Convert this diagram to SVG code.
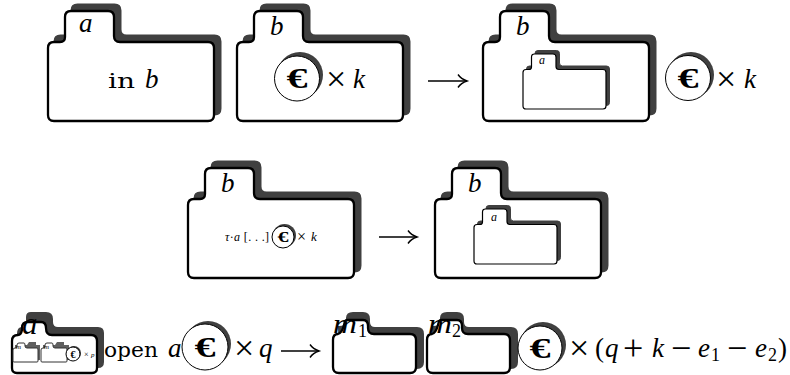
<svg xmlns="http://www.w3.org/2000/svg" xmlns:xlink="http://www.w3.org/1999/xlink" width="790" height="375" viewBox="0 0 790 375">
<style>
text{fill:#000;font-family:"Liberation Serif",serif;font-size:27px}
.i{font-style:italic}
.m{font-family:"DejaVu Serif",serif;font-size:20px}
.s{font-size:36px}
.e{font-weight:bold;text-anchor:middle;font-size:29px}
.e2{font-weight:bold;text-anchor:middle;font-size:15px}
.e3{font-weight:bold;text-anchor:middle;font-size:10px}
.sub{font-size:18px}
.sh{fill:#404040;stroke:#404040;stroke-width:2}
.fo{fill:#fff;stroke:#000;stroke-width:2.3}
.fi{fill:#fff;stroke:#000;stroke-width:2.4}
.cs{fill:#404040}
.co{fill:#fff;stroke:#000;stroke-width:1}
.ar{fill:none;stroke:#000;stroke-width:1.3;marker-end:url(#hook)}
</style>
<defs>
<path id="f" d="M0 37Q0 31 6 31L12 31Q17 31 17 26L17 6Q17 0 23 0L60 0Q66 0 66 6L66 25Q66 31 72 31L160 31Q166 31 166 37L166 104Q166 110 160 110L6 110Q0 110 0 104Z"/>
<marker id="hook" markerUnits="userSpaceOnUse" markerWidth="14" markerHeight="16" refX="12" refY="8" orient="auto" overflow="visible">
<path d="M3 1.500Q6 6 12 8Q6 10 3 14.500" fill="none" stroke="#000" stroke-width="1.4"/>
</marker>
</defs>

<g id="connectors">
<path class="ar" d="M428 81H467"/>
<path class="ar" d="M379 237H417"/>
<path class="ar" d="M281 351H319"/>
</g>

<g id="folder-a-top">
<use xlink:href="#f" class="sh" transform="translate(54.500,4.500)"/>
<use xlink:href="#f" class="fo" transform="translate(48,11)"/>
<text class="i" x="79" y="32">a</text>
<text class="m" x="108" y="88" textLength="27" lengthAdjust="spacingAndGlyphs">in</text>
<text class="i" x="145" y="88">b</text>
</g>

<g id="folder-b-top">
<use xlink:href="#f" class="sh" transform="translate(243.500,4.500)"/>
<use xlink:href="#f" class="fo" transform="translate(237,11)"/>
<text class="i" x="270" y="35">b</text>
<circle class="cs" cx="300" cy="75" r="23"/>
<circle class="co" cx="297" cy="78.500" r="22.500"/>
<text class="e" x="297" y="88" textLength="21" lengthAdjust="spacingAndGlyphs">€</text>
<text class="s" x="326" y="91">×</text>
<text class="i" x="353" y="88">k</text>
</g>

<g id="folder-b-result">
<use xlink:href="#f" class="sh" transform="translate(489.500,4.500)"/>
<use xlink:href="#f" class="fo" transform="translate(483,11)"/>
<text class="i" x="516" y="35">b</text>
</g>
<g id="folder-a-inner">
<use xlink:href="#f" class="sh" transform="translate(526.500,50.500) scale(.5)"/>
<use xlink:href="#f" class="fi" transform="translate(523,54) scale(.5)"/>
<text class="i" x="539" y="64" style="font-size:12px">a</text>
</g>
<g id="coins-top">
<circle class="cs" cx="691" cy="75" r="23"/>
<circle class="co" cx="688" cy="78" r="22.500"/>
<text class="e" x="688" y="87.500" textLength="21" lengthAdjust="spacingAndGlyphs">€</text>
<text class="s" x="716" y="91">×</text>
<text class="i" x="744" y="88">k</text>
</g>

<g id="folder-b-mid">
<use xlink:href="#f" class="sh" transform="translate(194.500,161.500)"/>
<use xlink:href="#f" class="fo" transform="translate(188,168)"/>
<text class="i" x="221" y="192">b</text>
<text x="225" y="241" style="font-size:12px" textLength="44"><tspan class="i">τ</tspan>·<tspan class="i">a</tspan> [. . .]</text>
<circle class="cs" cx="284.500" cy="235.500" r="11.500"/>
<circle class="co" cx="283" cy="237" r="11"/>
<text class="e2" x="283" y="242" textLength="11" lengthAdjust="spacingAndGlyphs">€</text>
<text x="297" y="242" style="font-size:16px">×</text>
<text class="i" x="311" y="241" style="font-size:13px">k</text>
</g>

<g id="folder-b-mid-result">
<use xlink:href="#f" class="sh" transform="translate(441.500,161.500)"/>
<use xlink:href="#f" class="fo" transform="translate(435,168)"/>
<text class="i" x="468" y="192">b</text>
</g>
<g id="folder-a-mid-inner">
<use xlink:href="#f" class="sh" transform="translate(477.500,205.500) scale(.5)"/>
<use xlink:href="#f" class="fi" transform="translate(474,209) scale(.5)"/>
<text class="i" x="491" y="221" style="font-size:12px">a</text>
</g>

<g id="folder-a-bottom">
<path class="sh" d="M18 334Q18 328 22 328L24 328Q27 328 27 324L27 317Q27 313 31 313L46 313Q52 313 52 319L52 322Q52 328 58 328L98 328Q103 328 103 333L103 362Q103 367 98 367L18 367Z"/>
<path class="fo" d="M12 341Q12 335 18 335L18 335Q21 335 22 330L22 328Q22 322 28 322L41 322Q46 322 46 328Q46 335 52 335L91 335Q97 335 97 341L97 368Q97 373 92 373L17 373Q12 373 12 368Z"/>
<text class="i" x="22" y="334" style="font-size:31px">a</text>
<g id="mini-m-1">
<path d="M15 345H27L29 342H36V345H40V360H15Z" fill="#606060"/>
<path d="M13 350Q13 348 15 348H16Q17 348 17 346V345Q17 343 19 343H24Q25 343 25 345V346Q25 348 27 348H37Q38 348 38 350V361Q38 362 37 362H14Q13 362 13 361Z" fill="#fff" stroke="#333" stroke-width="1"/>
<text class="i" x="16" y="349" style="font-size:7px">m</text>
</g>
<g id="mini-m-2">
<path d="M43 345H55L57 342H64V345H69V360H43Z" fill="#606060"/>
<path d="M41 350Q41 348 43 348H44Q45 348 45 346V345Q45 343 47 343H52Q53 343 53 345V346Q53 348 55 348H66Q67 348 67 350V361Q67 362 66 362H42Q41 362 41 361Z" fill="#fff" stroke="#333" stroke-width="1"/>
<text class="i" x="44" y="349" style="font-size:7px">m</text>
</g>
<circle class="cs" cx="74" cy="353" r="7"/>
<circle class="co" cx="73" cy="354" r="7"/>
<text class="e3" x="73" y="357.500">€</text>
<text x="84" y="357" style="font-size:8px">×</text>
<text class="i" x="91" y="357" style="font-size:7px">p</text>
</g>

<g id="open-text">
<text class="m" x="104" y="357" textLength="54" lengthAdjust="spacingAndGlyphs">open</text>
<text class="i" x="168" y="357">a</text>
<circle class="cs" cx="208" cy="344" r="23"/>
<circle class="co" cx="205" cy="347" r="23"/>
<text class="e" x="205" y="357" textLength="21" lengthAdjust="spacingAndGlyphs">€</text>
<text class="s" x="234" y="360">×</text>
<text class="i" x="259" y="357">q</text>
</g>

<g id="folder-m1">
<path class="sh" d="M339 327Q346 327 347 322L347 318Q347 313 353 313L363 313Q369 313 369 319L369 322Q369 328 375 328L417 328Q423 328 423 334L423 362Q423 368 417 368L340 368Z"/>
<path class="fo" d="M333 340Q333 334 338 334Q342 333 344 325L345 321Q346 320 348 320L363 320Q368 320 368 326V328Q368 334 374 334L410 334Q416 334 416 340L416 367Q416 373 410 373L339 373Q333 373 333 367Z"/>
<text class="i" x="333" y="333" textLength="24" lengthAdjust="spacingAndGlyphs" style="font-size:28px">m</text>
<text x="358" y="337" class="sub">1</text>
</g>

<g id="folder-m2">
<path class="sh" d="M433 327Q440 327 441 322L441 318Q441 313 447 313L457 313Q463 313 463 319L463 322Q463 328 469 328L511 328Q517 328 517 334L517 362Q517 368 511 368L434 368Z"/>
<path class="fo" d="M427 340Q427 334 432 334Q436 333 438 325L439 321Q440 320 442 320L457 320Q462 320 462 326V328Q462 334 468 334L504 334Q510 334 510 340L510 367Q510 373 504 373L433 373Q427 373 427 367Z"/>
<text class="i" x="428" y="333" textLength="24" lengthAdjust="spacingAndGlyphs" style="font-size:28px">m</text>
<text x="452" y="337" class="sub">2</text>
</g>

<g id="coins-bottom">
<circle class="cs" cx="543" cy="345" r="23"/>
<circle class="co" cx="540" cy="348" r="22"/>
<text class="e" x="540" y="358" textLength="21" lengthAdjust="spacingAndGlyphs">€</text>
<text class="s" x="569" y="360">×</text>
<text x="595" y="357">(</text>
<text class="i" x="605" y="357">q</text>
<text class="s" x="623" y="360">+</text>
<text class="i" x="652" y="357">k</text>
<text class="s" x="671" y="360">−</text>
<text class="i" x="698" y="357">e</text>
<text x="711" y="361" class="sub">1</text>
<text class="s" x="727" y="360">−</text>
<text class="i" x="755" y="357">e</text>
<text x="768" y="361" class="sub">2</text>
<text x="778" y="357">)</text>
</g>
</svg>
